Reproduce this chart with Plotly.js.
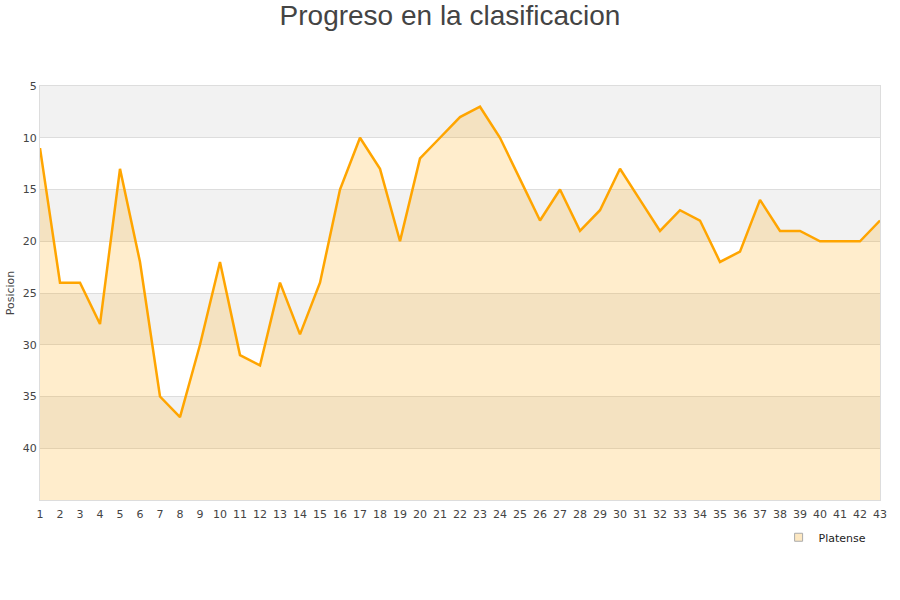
<!DOCTYPE html>
<html>
<head>
<meta charset="utf-8">
<script src="https://cdn.plot.ly/plotly-3.0.1.min.js"></script>
<style>html,body{margin:0;padding:0;background:#fff}#chart{width:900px;height:600px}</style>
</head>
<body>
<div id="chart"></div>
<script>
var jornadas = [];
for (var i = 1; i <= 43; i++) jornadas.push(i);
var posiciones = [11,24,24,28,13,22,35,37,30,22,31,32,24,29,24,15,10,13,20,12,10,8,7,10,14,18,15,19,17,13,16,19,17,18,22,21,16,19,19,20,20,20,18];
var teamName = 'Platense';
var yMin = 5, yMax = 45;
var yTicks = [5,10,15,20,25,30,35,40];
var bandStarts = [5,15,25,35];

var baseline = jornadas.map(function(){ return yMax; });

var shapes = bandStarts.map(function(b){
  return {type:'rect', xref:'paper', yref:'y', x0:0, x1:1, y0:b, y1:b+5,
          fillcolor:'#f2f2f2', line:{width:0}, layer:'below'};
});

var traces = [
  {x: jornadas, y: baseline, mode:'lines', line:{width:0, color:'rgba(0,0,0,0)'},
   hoverinfo:'skip', showlegend:false},
  {x: jornadas, y: posiciones, mode:'lines', fill:'tonexty',
   fillcolor:'rgba(255,165,0,0.2)', line:{color:'#ffa500', width:2.5},
   name: teamName, showlegend:false},
  {x:[null], y:[null], mode:'markers', name: teamName,
   marker:{symbol:'square', size:8, color:'#fde8c2', line:{color:'#aaa', width:1}}}
];

var layout = {
  width:900, height:600,
  paper_bgcolor:'#fff', plot_bgcolor:'#fff',
  margin:{l:40, r:20, t:86, b:100},
  title:{text:'Progreso en la clasificacion', x:0.5, xanchor:'center', y:0.974, yanchor:'middle',
         font:{family:'Liberation Sans, Arial, sans-serif', size:28, color:'#444'}},
  font:{family:'DejaVu Sans, sans-serif', size:11, color:'#444'},
  xaxis:{range:[1,43], tickmode:'array', tickvals:jornadas, ticktext:jornadas.map(String),
         showgrid:false, zeroline:false, showline:true, linecolor:'#ddd', mirror:true,
         ticks:'', ticklabelstandoff:4, tickfont:{size:11, color:'#444'}, fixedrange:true},
  yaxis:{range:[yMax,yMin], tickmode:'array', tickvals:yTicks, showgrid:true, gridcolor:'#ddd',
         zeroline:false, showline:true, linecolor:'#ddd', mirror:true, ticks:'',
         tickfont:{size:11, color:'#444'},
         title:{text:'Posicion', font:{size:11, color:'#444'}, standoff:5}},
  shapes: shapes,
  showlegend:true,
  legend:{x:0.99, xanchor:'right', y:-0.09, yanchor:'middle', orientation:'h',
          font:{size:11, color:'#222'}, bgcolor:'rgba(0,0,0,0)'}
};

Plotly.newPlot('chart', traces, layout, {displayModeBar:false, staticPlot:true});
</script>
</body>
</html>
